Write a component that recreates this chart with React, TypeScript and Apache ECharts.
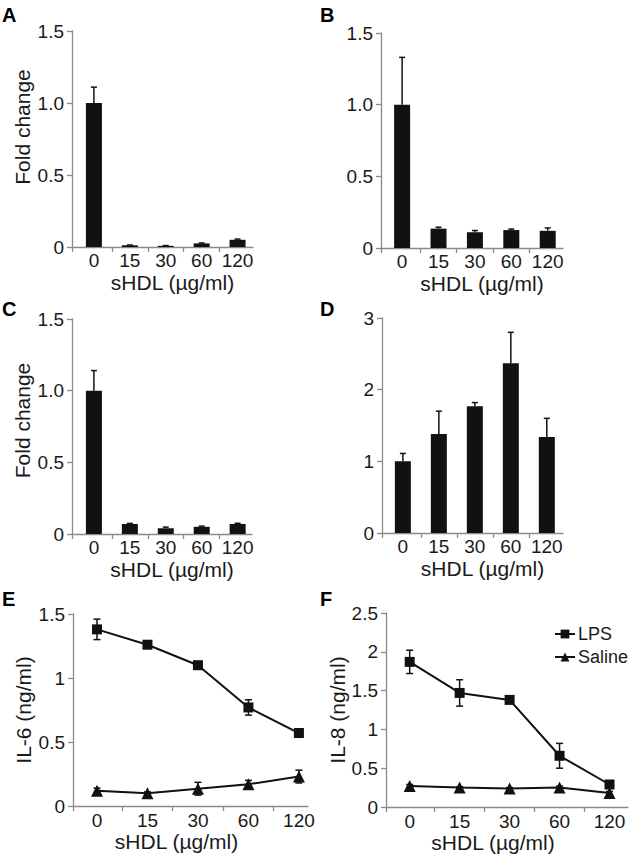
import React, { useEffect, useRef } from 'react';
import * as echarts from 'echarts';

// ---- data ----
const doses = ['0', '15', '30', '60', '120'];

const aMean = [1.0, 0.012, 0.008, 0.025, 0.05];
const aErr = [0.11, 0.002, 0.002, 0.003, 0.005];

const bMean = [1.0, 0.135, 0.11, 0.125, 0.12];
const bErr = [0.33, 0.01, 0.012, 0.007, 0.02];

const cMean = [1.0, 0.07, 0.04, 0.05, 0.07];
const cErr = [0.14, 0.004, 0.008, 0.005, 0.005];

const dMean = [1.0, 1.38, 1.77, 2.37, 1.34];
const dErr = [0.11, 0.32, 0.05, 0.43, 0.26];

const eLps = [1.38, 1.26, 1.1, 0.77, 0.57];
const eLpsErr = [0.08, 0.02, 0.02, 0.06, 0.03];
const eSaline = [0.12, 0.1, 0.135, 0.17, 0.23];
const eSalineErr = [0.02, 0.01, 0.05, 0.03, 0.05];

const fLps = [1.87, 1.47, 1.38, 0.66, 0.29];
const fLpsErr = [0.15, 0.17, 0.03, 0.16, 0.04];
const fSaline = [0.27, 0.25, 0.24, 0.25, 0.18];
const fSalineErr = [0.02, 0.01, 0.01, 0.02, 0.02];

const panelLetters = ['A', 'B', 'C', 'D', 'E', 'F'];
const xName = 'sHDL (µg/ml)';

const FONT = '"Liberation Sans", Arial, Helvetica, sans-serif';
const AXIS_COLOR = '#8a8a8a';
const TEXT_COLOR = '#1a1a1a';
const INK = '#111111';
const TICK_FS = 19;
const NAME_FS = 21;

const grids = [
  { left: 72, top: 31, width: 181, height: 216 },
  { left: 381, top: 33, width: 182, height: 215 },
  { left: 72, top: 319, width: 180, height: 215 },
  { left: 382, top: 318, width: 181, height: 215 },
  { left: 73, top: 614, width: 235, height: 192 },
  { left: 386, top: 613, width: 242, height: 194 },
];
const xRanges = [
  [-0.61, 4.43],
  [-0.58, 4.42],
  [-0.61, 4.4],
  [-0.58, 4.45],
  [-0.475, 4.18],
  [-0.474, 4.37],
];
const yRanges = [
  [0, 1.5, 0.5],
  [0, 1.5, 0.5],
  [0, 1.5, 0.5],
  [0, 3, 1],
  [0, 1.5, 0.5],
  [0, 2.5, 0.5],
];
const yNames = ['Fold change', '', 'Fold change', '', 'IL-6 (ng/ml)', 'IL-8 (ng/ml)'];
const letterPos = [
  [2, 5], [320, 5], [2, 299], [320, 299], [2, 589], [320, 589],
];

function makeXAxis(i: number) {
  const [min, max] = xRanges[i];
  const isLine = i >= 4;
  return {
    type: 'value',
    gridIndex: i,
    min,
    max,
    splitLine: { show: false },
    axisLine: { show: true, onZero: false, lineStyle: { color: AXIS_COLOR, width: 1.3 } },
    axisTick: {
      show: true,
      customValues: [min, 0.5, 1.5, 2.5, 3.5],
      length: 5,
      lineStyle: { color: AXIS_COLOR, width: 1.3 },
    },
    axisLabel: {
      customValues: [0, 1, 2, 3, 4],
      formatter: (v: number) => doses[Math.round(v)],
      fontSize: TICK_FS,
      color: TEXT_COLOR,
      fontFamily: FONT,
      margin: isLine ? 5 : 4,
    },
    name: xName,
    nameLocation: 'middle',
    nameGap: isLine ? 25 : 25,
    nameTextStyle: {
      fontSize: NAME_FS,
      color: TEXT_COLOR,
      fontFamily: FONT,
      padding: isLine ? [0, 28, 0, 0] : [0, 0, 0, 20],
    },
  };
}

function makeYAxis(i: number) {
  const [min, max, interval] = yRanges[i];
  const oneDecimal = i < 3;
  return {
    type: 'value',
    gridIndex: i,
    min,
    max,
    interval,
    splitLine: { show: false },
    axisLine: { show: true, onZero: false, lineStyle: { color: AXIS_COLOR, width: 1.3 } },
    axisTick: { show: true, length: 5, lineStyle: { color: AXIS_COLOR, width: 1.3 } },
    axisLabel: {
      fontSize: TICK_FS,
      color: TEXT_COLOR,
      fontFamily: FONT,
      margin: 8,
      formatter: (v: number) => (v === 0 ? '0' : oneDecimal ? v.toFixed(1) : String(v)),
    },
    name: yNames[i],
    nameLocation: 'middle',
    nameGap: i === 5 ? 37 : 39,
    nameTextStyle: {
      fontSize: NAME_FS,
      color: TEXT_COLOR,
      fontFamily: FONT,
      padding: i === 0 ? [0, 0, 0, 24] : i === 2 ? [0, 0, 0, 12] : 0,
    },
  };
}

function errorSeries(mean: number[], err: number[], idx: number, both: boolean, capW: number) {
  return {
    type: 'custom',
    xAxisIndex: idx,
    yAxisIndex: idx,
    z: 5,
    silent: true,
    data: mean.map((m, i) => [i, m, err[i]]),
    renderItem: (_params: any, api: any) => {
      const x = api.value(0);
      const m = api.value(1);
      const e = api.value(2);
      const top = api.coord([x, m + e]);
      const bot = api.coord([x, both ? m - e : m]);
      const style = { stroke: INK, lineWidth: 1.5 };
      const children: any[] = [
        { type: 'line', shape: { x1: top[0], y1: top[1], x2: bot[0], y2: bot[1] }, style },
        { type: 'line', shape: { x1: top[0] - capW / 2, y1: top[1], x2: top[0] + capW / 2, y2: top[1] }, style },
      ];
      if (both) {
        children.push({
          type: 'line',
          shape: { x1: bot[0] - capW / 2, y1: bot[1], x2: bot[0] + capW / 2, y2: bot[1] },
          style,
        });
      }
      return { type: 'group', children };
    },
  };
}

function barSeries(mean: number[], idx: number) {
  return {
    type: 'bar',
    xAxisIndex: idx,
    yAxisIndex: idx,
    barWidth: 16,
    itemStyle: { color: INK },
    data: mean.map((m, i) => [i, m]),
    z: 3,
  };
}

function lineSeries(name: string, vals: number[], idx: number, symbol: string, size: number) {
  return {
    type: 'line',
    name,
    xAxisIndex: idx,
    yAxisIndex: idx,
    symbol,
    symbolSize: size,
    showSymbol: true,
    lineStyle: { color: INK, width: 2 },
    itemStyle: { color: INK },
    data: vals.map((v, i) => [i, v]),
    z: 4,
  };
}

export default function App() {
  const ref = useRef<HTMLDivElement>(null);
  useEffect(() => {
    if (!ref.current) return;
    const chart = echarts.init(ref.current, undefined, { renderer: 'svg' });
    const option: any = {
      animation: false,
      backgroundColor: '#ffffff',
      textStyle: { fontFamily: FONT },
      grid: grids.map((g) => ({ ...g, containLabel: false })),
      xAxis: grids.map((_, i) => makeXAxis(i)),
      yAxis: grids.map((_, i) => makeYAxis(i)),
      legend: {
        data: ['LPS', 'Saline'],
        orient: 'vertical',
        left: 549,
        top: 620,
        itemGap: 5,
        itemWidth: 20,
        itemHeight: 11,
        textStyle: { fontSize: 18, color: TEXT_COLOR, fontFamily: FONT, padding: [0, 0, 0, -2] },
      },
      graphic: panelLetters.map((t, i) => ({
        type: 'text',
        left: letterPos[i][0],
        top: letterPos[i][1],
        style: { text: t, fontSize: 20, fontWeight: 'bold', fill: '#000', fontFamily: FONT },
      })),
      series: [
        barSeries(aMean, 0),
        errorSeries(aMean, aErr, 0, false, 6),
        barSeries(bMean, 1),
        errorSeries(bMean, bErr, 1, false, 6),
        barSeries(cMean, 2),
        errorSeries(cMean, cErr, 2, false, 6),
        barSeries(dMean, 3),
        errorSeries(dMean, dErr, 3, false, 6),
        lineSeries('LPS', eLps, 4, 'rect', 10),
        errorSeries(eLps, eLpsErr, 4, true, 7),
        lineSeries('Saline', eSaline, 4, 'triangle', 12),
        errorSeries(eSaline, eSalineErr, 4, true, 7),
        lineSeries('LPS', fLps, 5, 'rect', 10),
        errorSeries(fLps, fLpsErr, 5, true, 7),
        lineSeries('Saline', fSaline, 5, 'triangle', 12),
        errorSeries(fSaline, fSalineErr, 5, true, 7),
      ],
    };
    chart.setOption(option);
    return () => chart.dispose();
  }, []);
  return (
    <div
      ref={ref}
      style={{ position: 'absolute', left: 0, top: 0, width: 637, height: 860, background: '#fff' }}
    />
  );
}
